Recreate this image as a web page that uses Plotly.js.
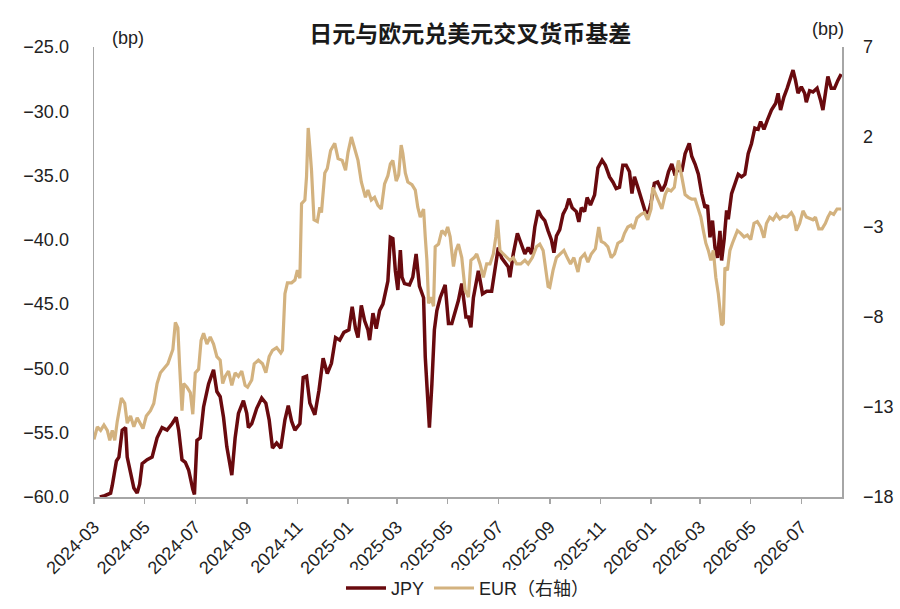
<!DOCTYPE html>
<html>
<head>
<meta charset="utf-8">
<script src="https://cdn.plot.ly/plotly-3.0.1.min.js"></script>
<style>
  body { margin: 0; background: #fff; }
  #chart { width: 900px; height: 609px; }
</style>
</head>
<body>
<div id="chart"></div>
<script>
var jpyDates = ['2024-03-08','2024-03-14','2024-03-21','2024-03-23','2024-03-28','2024-03-31','2024-04-04','2024-04-08','2024-04-10','2024-04-14',
  '2024-04-18','2024-04-22','2024-04-25','2024-04-28','2024-05-04','2024-05-10','2024-05-16','2024-05-22','2024-05-28','2024-06-03',
  '2024-06-08','2024-06-11','2024-06-15','2024-06-19','2024-06-23','2024-06-28','2024-06-30','2024-07-03','2024-07-07','2024-07-11',
  '2024-07-17','2024-07-23','2024-07-27','2024-07-31','2024-08-04','2024-08-08','2024-08-14','2024-08-18','2024-08-22','2024-08-28',
  '2024-09-01','2024-09-03','2024-09-07','2024-09-13','2024-09-19','2024-09-24','2024-09-28','2024-10-02','2024-10-07','2024-10-12',
  '2024-10-17','2024-10-21','2024-10-25','2024-10-29','2024-11-04','2024-11-08','2024-11-12','2024-11-16','2024-11-22','2024-11-27',
  '2024-12-02','2024-12-07','2024-12-12','2024-12-17','2024-12-22','2024-12-27','2025-01-02','2025-01-06','2025-01-10','2025-01-13',
  '2025-01-17','2025-01-21','2025-01-25','2025-01-27','2025-01-31','2025-02-04','2025-02-08','2025-02-12','2025-02-18','2025-02-21',
  '2025-02-24','2025-02-27','2025-03-02','2025-03-05','2025-03-07','2025-03-10','2025-03-16','2025-03-20','2025-03-24','2025-03-28',
  '2025-04-02','2025-04-04','2025-04-08','2025-04-09','2025-04-12','2025-04-15','2025-04-18','2025-04-22','2025-04-28','2025-05-02',
  '2025-05-06','2025-05-10','2025-05-14','2025-05-18','2025-05-23','2025-05-26','2025-05-29','2025-06-01','2025-06-07','2025-06-12',
  '2025-06-17','2025-06-23','2025-06-27','2025-07-01','2025-07-05','2025-07-09','2025-07-13','2025-07-15','2025-07-19','2025-07-24',
  '2025-07-29','2025-08-02','2025-08-06','2025-08-10','2025-08-14','2025-08-18','2025-08-22','2025-08-26','2025-08-30','2025-09-03',
  '2025-09-06','2025-09-09','2025-09-13','2025-09-17','2025-09-21','2025-09-24','2025-09-28','2025-10-03','2025-10-06','2025-10-09',
  '2025-10-13','2025-10-16','2025-10-20','2025-10-25','2025-10-29','2025-11-03','2025-11-07','2025-11-12','2025-11-16','2025-11-20',
  '2025-11-24','2025-11-28','2025-12-02','2025-12-06','2025-12-09','2025-12-12','2025-12-16','2025-12-21','2025-12-25','2025-12-29',
  '2026-01-01','2026-01-05','2026-01-09','2026-01-14','2026-01-18','2026-01-22','2026-01-26','2026-01-30','2026-02-03','2026-02-07',
  '2026-02-11','2026-02-16','2026-02-19','2026-02-23','2026-02-27','2026-03-03','2026-03-07','2026-03-10','2026-03-13','2026-03-16',
  '2026-03-19','2026-03-22','2026-03-25','2026-03-27','2026-03-30','2026-04-02','2026-04-04','2026-04-08','2026-04-12','2026-04-16',
  '2026-04-20','2026-04-24','2026-04-28','2026-05-02','2026-05-06','2026-05-10','2026-05-13','2026-05-17','2026-05-21','2026-05-26',
  '2026-05-31','2026-06-03','2026-06-06','2026-06-10','2026-06-14','2026-06-18','2026-06-21','2026-06-24','2026-06-27','2026-07-01',
  '2026-07-05','2026-07-07','2026-07-11','2026-07-15','2026-07-20','2026-07-24','2026-07-27','2026-07-30','2026-08-02','2026-08-06',
  '2026-08-10','2026-08-14','2026-08-18'];
var jpyValues = [-60.0,-59.9,-59.7,-59.1,-57.2,-56.9,-54.8,-54.6,-56.9,-58.2,
  -59.3,-59.7,-59.0,-57.4,-57.1,-56.9,-55.4,-54.6,-54.8,-54.3,
  -53.8,-54.8,-57.1,-57.3,-57.9,-59.4,-59.8,-55.6,-55.4,-53.0,
  -51.2,-50.1,-51.8,-52.2,-53.8,-56.1,-58.3,-55.4,-53.5,-52.5,
  -53.5,-54.6,-54.3,-53.1,-52.3,-52.7,-54.0,-56.2,-55.8,-56.2,
  -54.0,-52.9,-54.1,-54.8,-54.3,-50.7,-50.6,-52.7,-53.6,-51.7,
  -49.2,-50.4,-49.6,-47.6,-47.8,-47.2,-47.0,-45.2,-46.9,-47.6,
  -45.1,-46.3,-47.0,-47.8,-45.7,-46.9,-45.5,-45.0,-43.2,-39.8,
  -39.9,-42.4,-43.9,-40.8,-42.9,-43.4,-43.5,-42.9,-41.1,-43.6,
  -44.5,-49.1,-53.0,-54.6,-51.2,-47.0,-45.5,-44.5,-43.5,-46.5,
  -46.5,-45.5,-44.7,-43.4,-46.0,-46.0,-46.8,-44.5,-42.4,-44.2,
  -44.0,-44.0,-42.1,-40.6,-41.4,-41.7,-42.1,-42.9,-41.1,-39.5,
  -40.3,-41.1,-40.6,-41.1,-39.0,-37.7,-38.2,-38.5,-39.3,-40.0,
  -41.0,-39.7,-39.2,-38.0,-37.5,-36.8,-37.5,-37.8,-38.6,-37.5,
  -37.8,-36.7,-37.3,-36.5,-34.4,-33.8,-34.2,-35.1,-35.5,-36.0,
  -35.9,-34.2,-34.2,-34.7,-36.4,-35.1,-35.9,-36.9,-37.8,-37.9,
  -37.1,-35.6,-35.5,-36.2,-35.7,-34.7,-34.1,-35.0,-34.4,-34.7,
  -33.3,-32.5,-33.5,-34.1,-34.9,-36.4,-37.5,-37.3,-39.8,-38.5,
  -40.6,-41.4,-39.3,-41.6,-40.0,-37.7,-38.4,-36.4,-35.6,-34.9,
  -35.1,-34.9,-33.3,-32.5,-31.3,-31.4,-30.8,-31.4,-30.7,-29.9,
  -29.4,-28.6,-29.9,-28.9,-28.2,-27.3,-26.8,-27.6,-28.6,-28.1,
  -28.6,-29.3,-28.4,-28.5,-28.2,-29.1,-29.9,-28.6,-27.3,-28.2,
  -28.2,-27.6,-27.1];

var eurDates = ['2024-03-01','2024-03-05','2024-03-09','2024-03-13','2024-03-17','2024-03-20','2024-03-23','2024-03-26','2024-03-29','2024-04-03',
  '2024-04-07','2024-04-10','2024-04-14','2024-04-18','2024-04-22','2024-04-26','2024-04-29','2024-05-03','2024-05-08','2024-05-12',
  '2024-05-16','2024-05-20','2024-05-24','2024-05-29','2024-06-01','2024-06-04','2024-06-07','2024-06-10','2024-06-12','2024-06-15',
  '2024-06-17','2024-06-21','2024-06-25','2024-06-28','2024-07-01','2024-07-05','2024-07-08','2024-07-11','2024-07-15','2024-07-19',
  '2024-07-23','2024-07-27','2024-07-31','2024-08-03','2024-08-06','2024-08-10','2024-08-14','2024-08-18','2024-08-22','2024-08-26',
  '2024-08-30','2024-09-02','2024-09-07','2024-09-10','2024-09-15','2024-09-20','2024-09-24','2024-09-28','2024-10-02','2024-10-07',
  '2024-10-12','2024-10-14','2024-10-17','2024-10-20','2024-10-25','2024-10-29','2024-11-01','2024-11-04','2024-11-06','2024-11-10',
  '2024-11-12','2024-11-14','2024-11-16','2024-11-18','2024-11-21','2024-11-25','2024-11-28','2024-11-30','2024-12-04','2024-12-07',
  '2024-12-11','2024-12-16','2024-12-20','2024-12-25','2024-12-29','2025-01-01','2025-01-05','2025-01-09','2025-01-13','2025-01-17',
  '2025-01-19','2025-01-22','2025-01-25','2025-01-29','2025-02-02','2025-02-06','2025-02-10','2025-02-14','2025-02-18','2025-02-21',
  '2025-02-24','2025-02-28','2025-03-03','2025-03-06','2025-03-08','2025-03-11','2025-03-14','2025-03-19','2025-03-23','2025-03-26',
  '2025-03-29','2025-04-02','2025-04-04','2025-04-06','2025-04-08','2025-04-11','2025-04-14','2025-04-16','2025-04-20','2025-04-24',
  '2025-04-28','2025-05-01','2025-05-04','2025-05-08','2025-05-11','2025-05-14','2025-05-18','2025-05-22','2025-05-26','2025-05-29',
  '2025-06-02','2025-06-05','2025-06-09','2025-06-13','2025-06-17','2025-06-21','2025-06-25','2025-06-28','2025-06-30','2025-07-03',
  '2025-07-07','2025-07-11','2025-07-15','2025-07-19','2025-07-23','2025-07-28','2025-08-02','2025-08-06','2025-08-11','2025-08-16',
  '2025-08-20','2025-08-24','2025-08-27','2025-08-30','2025-09-01','2025-09-05','2025-09-09','2025-09-14','2025-09-18','2025-09-22',
  '2025-09-26','2025-09-30','2025-10-05','2025-10-08','2025-10-13','2025-10-17','2025-10-21','2025-10-26','2025-10-30','2025-11-02',
  '2025-11-06','2025-11-10','2025-11-14','2025-11-18','2025-11-22','2025-11-27','2025-11-30','2025-12-04','2025-12-08','2025-12-11',
  '2025-12-15','2025-12-20','2025-12-24','2025-12-28','2026-01-01','2026-01-03','2026-01-07','2026-01-11','2026-01-14','2026-01-18',
  '2026-01-21','2026-01-25','2026-01-29','2026-02-01','2026-02-03','2026-02-07','2026-02-11','2026-02-15','2026-02-19','2026-02-23',
  '2026-02-27','2026-03-02','2026-03-05','2026-03-08','2026-03-11','2026-03-14','2026-03-17','2026-03-20','2026-03-23','2026-03-25',
  '2026-03-27','2026-03-29','2026-03-31','2026-04-03','2026-04-06','2026-04-09','2026-04-12','2026-04-15','2026-04-19','2026-04-23',
  '2026-04-27','2026-05-01','2026-05-05','2026-05-09','2026-05-13','2026-05-17','2026-05-20','2026-05-24','2026-05-28','2026-06-01',
  '2026-06-05','2026-06-09','2026-06-14','2026-06-19','2026-06-22','2026-06-25','2026-06-29','2026-07-03','2026-07-07','2026-07-11',
  '2026-07-15','2026-07-18','2026-07-22','2026-07-26','2026-07-30','2026-08-02','2026-08-05','2026-08-09','2026-08-13','2026-08-18'];
var eurValues = [-14.8,-14.1,-14.3,-14.0,-14.3,-14.85,-14.3,-14.85,-13.8,-12.5,
  -12.8,-13.9,-13.5,-14.1,-13.6,-13.9,-14.2,-13.5,-13.2,-12.8,
  -11.7,-11.1,-10.85,-10.6,-10.2,-9.8,-8.3,-8.6,-10.6,-13.2,
  -11.7,-11.9,-12.2,-13.4,-11.1,-10.9,-9.3,-8.9,-9.5,-9.1,
  -9.5,-10.2,-10.4,-11.7,-11.3,-11.0,-11.8,-11.1,-11.3,-11.0,
  -11.8,-11.9,-11.5,-10.6,-10.4,-10.6,-11.1,-10.2,-9.85,-9.7,
  -10.0,-9.85,-6.7,-6.1,-6.1,-5.95,-5.4,-5.85,-1.7,-1.5,
  -0.2,2.5,1.4,0.15,-2.6,-2.7,-1.9,-2.2,0.0,0.25,
  1.25,1.65,0.8,0.7,0.15,1.15,2.0,1.4,0.7,-0.5,
  -0.8,-1.35,-0.95,-1.5,-1.35,-1.8,-2.0,-0.6,-0.15,0.5,
  0.7,-0.45,-0.1,1.55,1.1,0.0,-0.5,-0.65,-0.95,-1.9,
  -2.45,-2.0,-3.55,-4.85,-7.25,-6.9,-7.4,-4.1,-3.95,-3.2,
  -3.4,-3.0,-3.55,-5.2,-4.3,-3.95,-4.7,-6.5,-6.9,-4.85,
  -4.7,-4.5,-5.05,-5.8,-5.05,-5.05,-4.5,-3.55,-2.6,-4.3,
  -4.5,-4.7,-4.85,-4.7,-5.05,-5.05,-4.85,-5.05,-4.7,-4.1,
  -3.95,-4.3,-5.4,-6.3,-6.35,-5.4,-4.7,-4.5,-4.3,-4.7,
  -5.05,-4.7,-5.5,-4.75,-4.5,-4.95,-4.5,-4.2,-3.0,-3.8,
  -3.9,-4.1,-4.7,-4.5,-3.9,-3.75,-3.35,-3.0,-2.9,-3.1,
  -2.5,-2.3,-2.2,-2.6,-2.0,-0.8,-1.2,-1.7,-2.0,-1.2,
  -0.9,-1.0,-0.8,0.15,0.7,-0.2,-1.2,-1.35,-1.45,-1.45,
  -2.0,-2.45,-3.2,-3.9,-4.3,-4.85,-4.3,-5.8,-6.7,-7.6,
  -8.45,-8.35,-5.25,-5.4,-4.3,-3.9,-3.55,-3.2,-3.35,-3.55,
  -3.45,-3.7,-2.8,-2.7,-3.0,-3.6,-2.8,-2.45,-2.6,-2.3,
  -2.55,-2.4,-2.45,-2.2,-2.45,-3.2,-2.8,-2.1,-2.45,-2.55,
  -2.6,-2.45,-3.1,-3.1,-2.8,-2.45,-2.2,-2.3,-2.0,-2.0];

var leftTicks = [-60, -55, -50, -45, -40, -35, -30, -25];
var rightTicks = [-18, -13, -8, -3, 2, 7];

var baseFont = 'Liberation Sans, Arial, Noto Sans CJK SC, sans-serif';
var axisGray = '#a6a6a6';

var traces = [{
    x: jpyDates,
    y: jpyValues,
    name: 'JPY',
    type: 'scatter',
    mode: 'lines',
    line: { color: '#690a0e', width: 3.5 },
    yaxis: 'y'
  }, {
    x: eurDates,
    y: eurValues,
    name: 'EUR（右轴）',
    type: 'scatter',
    mode: 'lines',
    line: { color: '#d3b27f', width: 3.2 },
    yaxis: 'y2'
  }];

var layout = {
    width: 900,
    height: 609,
    paper_bgcolor: '#ffffff',
    plot_bgcolor: '#ffffff',
    font: { family: baseFont, size: 18, color: '#222' },
    margin: { l: 94, r: 58, t: 47, b: 112, pad: 0, autoexpand: false },
    title: {
      text: '<b>日元与欧元兑美元交叉货币基差</b>',
      font: { family: 'Noto Sans CJK SC, sans-serif', size: 23, color: '#1a1a1a' },
      xref: 'paper', x: 0.503, xanchor: 'center',
      yref: 'container', y: 0.944, yanchor: 'middle'
    },
    showlegend: true,
    legend: {
      orientation: 'h',
      xref: 'paper', x: 0.5, xanchor: 'center',
      yref: 'container', y: 0.034, yanchor: 'middle',
      font: { family: baseFont, size: 18, color: '#222' },
      itemwidth: 40,
      tracegroupgap: 0
    },
    xaxis: {
      type: 'date',
      range: ['2024-03-01', '2026-08-19'],
      tick0: '2024-03-01',
      dtick: 'M2',
      tickformat: '%Y-%m',
      tickangle: -45,
      ticks: 'outside',
      ticklen: 5,
      tickcolor: axisGray,
      tickwidth: 1.5,
      showline: true,
      linecolor: axisGray,
      linewidth: 1.5,
      showgrid: false,
      zeroline: false,
      automargin: false,
      tickfont: { size: 18, color: '#222' },
      ticklabelstandoff: 6
    },
    yaxis: {
      range: [-60, -25],
      tickvals: leftTicks,
      tickformat: '.1f',
      showline: true,
      linecolor: axisGray,
      linewidth: 1.5,
      showgrid: false,
      zeroline: false,
      automargin: false,
      ticks: '',
      tickfont: { size: 18, color: '#222' },
      ticklabelstandoff: 20
    },
    yaxis2: {
      range: [-18, 7],
      tickvals: rightTicks,
      overlaying: 'y',
      side: 'right',
      showline: true,
      linecolor: axisGray,
      linewidth: 1.5,
      showgrid: false,
      zeroline: false,
      automargin: false,
      ticks: '',
      tickfont: { size: 18, color: '#222' },
      ticklabelstandoff: 16
    },
    annotations: [{
      text: '(bp)', xref: 'paper', yref: 'paper',
      x: 0.045, y: 1.0204, xanchor: 'center', yanchor: 'middle',
      showarrow: false, font: { size: 18, color: '#222' }
    }, {
      text: '(bp)', xref: 'paper', yref: 'paper',
      x: 0.981, y: 1.039, xanchor: 'center', yanchor: 'middle',
      showarrow: false, font: { size: 18, color: '#222' }
    }]
  };

Plotly.newPlot('chart', traces, layout, { displayModeBar: false, staticPlot: true });
</script>
</body>
</html>
